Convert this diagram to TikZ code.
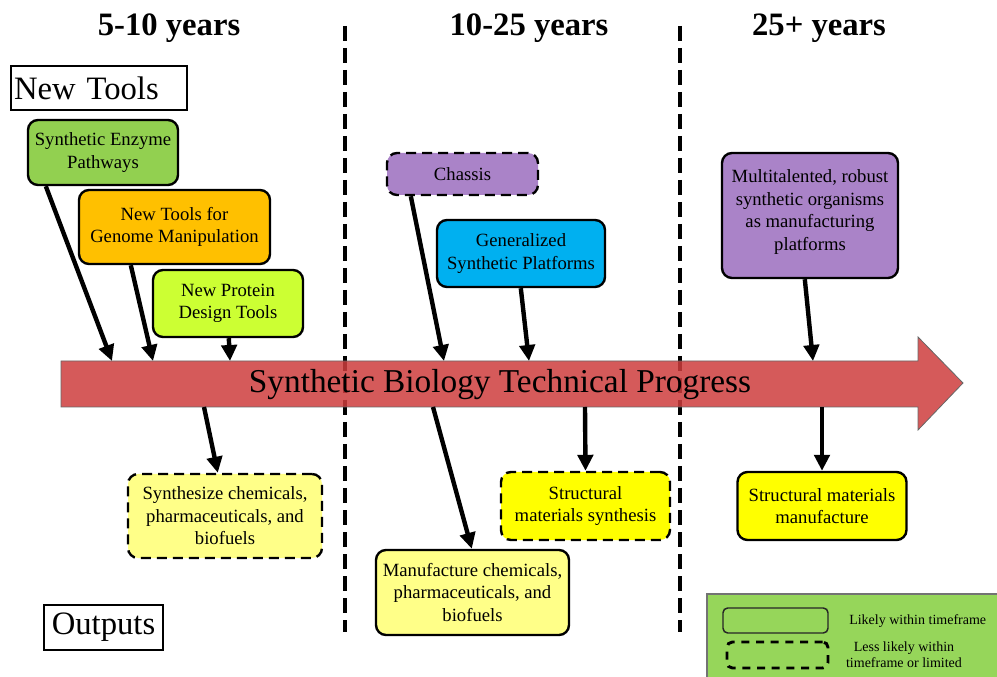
\documentclass[tikz,border=0pt]{standalone}
\usepackage{fontspec}
\setmainfont{Liberation Serif}
\usetikzlibrary{arrows.meta,calc}
\definecolor{enzgreen}{RGB}{146,208,80}
\definecolor{toolorange}{RGB}{255,192,0}
\definecolor{limegreen}{RGB}{204,255,51}
\definecolor{lilac}{RGB}{170,131,200}
\definecolor{skyblue}{RGB}{0,176,240}
\definecolor{paleyellow}{RGB}{255,255,136}
\definecolor{brightyellow}{RGB}{255,255,0}
\definecolor{arrowred}{RGB}{206,61,61}
\definecolor{legendgreen}{RGB}{150,214,90}
\begin{document}
\begin{tikzpicture}[x=0.75pt,y=-0.75pt,
  sz/.style 2 args={minimum width=#1*0.75pt, minimum height=#2*0.75pt},
  box/.style={draw, line width=1.8pt, rounded corners=7.5pt, align=center, inner sep=0pt,
    font=\fontsize{14}{16.8}\selectfont},
  dbox/.style={box, dash pattern=on 7.5pt off 4.5pt},
  conn/.style={line width=3.3pt, -{Triangle[width=11.5pt,length=12pt]}},
  hdr/.style={font=\fontsize{24.5}{28}\selectfont\bfseries},
  vdash/.style={line width=2.5pt, dash pattern=on 11pt off 5.5pt},
  labelbox/.style={draw, line width=2pt, inner sep=0pt, font=\fontsize{24.5}{28}\selectfont}
]
\useasboundingbox (0,0) rectangle (997,677);

% period headers
\node[hdr] (h1) at (169,28) {5-10 years};
\node[hdr] (h2) at (529,28) {10-25 years};
\node[hdr] (h3) at (819,28) {25+ years};

% dashed period separators
\draw[vdash] (345,26) -- (345,632);
\draw[vdash] (680,26) -- (680,632);

% main progress arrow
\draw[fill=arrowred, fill opacity=0.85, draw=black!60, line width=0.6pt]
  (61,361) -- (918,361) -- (918,337) -- (963,383) -- (918,430) -- (918,407) -- (61,407) -- cycle;
\node[font=\fontsize{25}{30}\selectfont] (prog) at (500,385) {Synthetic Biology Technical Progress};

% connection points on the arrow
\coordinate (t1) at (112,361);
\coordinate (t2) at (153,361);
\coordinate (t3) at (230,361);
\coordinate (t4) at (444,361);
\coordinate (t5) at (529,361);
\coordinate (t6) at (813,361);
\coordinate (b1) at (204,407);
\coordinate (b2) at (433,407);
\coordinate (b3) at (585,407);
\coordinate (b4) at (822,407);

% labels
\node[labelbox, text width=170*0.75pt, inner xsep=3*0.75pt, minimum height=44*0.75pt, align=left]
  (newtools) at (99,88) {New Tools};
\node[labelbox, sz={119}{45}] (outputs) at (103.5,627.5) {Outputs};

% tool boxes
\node[box, fill=enzgreen, sz={150}{65}] (enz) at (103,152.5) {Synthetic Enzyme\\Pathways};
\node[box, fill=toolorange, sz={191}{74}] (gen) at (174.5,227) {New Tools for\\Genome Manipulation};
\node[box, fill=limegreen, sz={150}{67}] (prot) at (228,303.5) {New Protein\\Design Tools};
\node[dbox, fill=lilac, sz={151}{42}] (chassis) at (462.5,174) {Chassis};
\node[box, fill=skyblue, sz={168}{67}] (gsp) at (521,253.5) {Generalized\\Synthetic Platforms};
\node[box, fill=lilac, sz={176}{125}] (multi) at (810,215.5)
  {Multitalented, robust\\synthetic organisms\\as manufacturing\\platforms\\[-8.5pt]};

% output boxes
\node[dbox, fill=paleyellow, sz={194}{84}] (synth) at (225,516) {Synthesize chemicals,\\pharmaceuticals, and\\biofuels};
\node[box, fill=paleyellow, sz={193}{85}] (manuf) at (472.5,592.5) {Manufacture chemicals,\\pharmaceuticals, and\\biofuels};
\node[dbox, fill=brightyellow, sz={169}{68}] (sms) at (585.5,506) {Structural\\materials synthesis};
\node[box, fill=brightyellow, sz={169}{68}] (smm) at (822,506) {Structural materials\\manufacture};

% connectors into the arrow
\draw[conn] ($(enz.south west)+(19,0)$) -- (t1);
\draw[conn] ($(gen.south west)+(53,0)$) -- (t2);
\draw[conn] ($(prot.south west)+(77,0)$) -- (t3);
\draw[conn] ($(chassis.south west)+(25,0)$) -- (t4);
\draw[conn] ($(gsp.south west)+(85,0)$) -- (t5);
\draw[conn] ($(multi.south west)+(84,0)$) -- (t6);

% connectors out of the arrow
\draw[conn] (b1) -- ($(synth.north west)+(91,0)$);
\draw[conn] (b2) -- ($(manuf.north west)+(97,0)$);
\draw[conn] (b3) -- (sms.north);
\draw[conn] (b4) -- (smm.north);

% legend
\fill[legendgreen, draw=black!55, line width=0.8pt] (707,594) rectangle (1001,681);
\node[draw=black!85, line width=1.1pt, rounded corners=3.5pt, sz={105}{25}] (lsolid) at (775.5,620.5) {};
\node[draw=black, line width=2.2pt, rounded corners=4pt, dash pattern=on 6pt off 5pt, sz={101}{26}] (ldash) at (777.5,655) {};
\node[anchor=west, inner sep=0pt, font=\fontsize{10.5}{12}\selectfont] (llikely) at (849,621) {Likely within timeframe};
\node[align=center, inner sep=0pt, font=\fontsize{10.5}{12}\selectfont] (lless) at (904,655) {Less likely within\\timeframe or limited};
\end{tikzpicture}
\end{document}
